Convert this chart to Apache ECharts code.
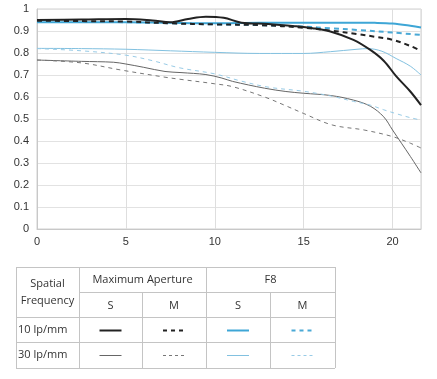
<!DOCTYPE html>
<html>
<head>
<meta charset="utf-8">
<script src="https://cdn.jsdelivr.net/npm/echarts@6/dist/echarts.min.js"></script>
<style>
html,body{margin:0;padding:0;background:#fff;}
#chart{width:437px;height:379px;}
</style>
</head>
<body>
<div id="chart"></div>
<script>
// x = image height (mm), y = MTF contrast
const maxAperture10S = [[0,0.95],[2.5,0.952],[5,0.955],[6.5,0.948],[7.5,0.94],[8.5,0.955],[9.5,0.965],[10.5,0.96],[11.5,0.938],[13,0.932],[14.5,0.922],[15.5,0.913],[16.5,0.898],[17.8,0.86],[18.75,0.814],[19.5,0.765],[20.2,0.695],[21,0.625],[21.6,0.563]];
const maxAperture10M = [[0,0.947],[2.5,0.945],[5,0.943],[7.5,0.935],[10,0.93],[12.5,0.927],[15,0.915],[16.5,0.902],[18,0.886],[19,0.874],[20,0.86],[21,0.832],[21.6,0.81]];
const f8_10S = [[0,0.94],[2.5,0.94],[5,0.94],[7.5,0.937],[10,0.935],[12.5,0.938],[15,0.938],[17.5,0.938],[19,0.937],[20,0.934],[21,0.924],[21.6,0.916]];
const f8_10M = [[0,0.944],[2.5,0.942],[5,0.94],[7.5,0.935],[10,0.93],[12.5,0.927],[15,0.92],[16.5,0.912],[18,0.905],[20,0.893],[21.6,0.882]];
const maxAperture30S = [[0,0.768],[2.5,0.762],[4.3,0.758],[5,0.75],[6,0.735],[7.2,0.716],[8.1,0.711],[9.5,0.702],[10.4,0.686],[11,0.671],[12.8,0.64],[14,0.625],[15,0.617],[16.5,0.607],[17.8,0.586],[18.75,0.558],[19.5,0.51],[20,0.45],[20.5,0.39],[21,0.33],[21.6,0.255]];
const maxAperture30M = [[0,0.768],[2.5,0.755],[4.7,0.723],[7.2,0.69],[8.1,0.68],[10,0.66],[11,0.647],[12.8,0.6],[14,0.56],[15,0.525],[16.6,0.473],[18.4,0.45],[20,0.42],[21,0.39],[21.6,0.368]];
const f8_30S = [[0,0.821],[2.5,0.82],[5,0.817],[7.5,0.81],[10,0.803],[12.5,0.798],[15,0.798],[16.5,0.806],[18,0.817],[18.6,0.82],[19.4,0.808],[20.2,0.775],[21,0.74],[21.6,0.70]];
const f8_30M = [[0,0.82],[2.5,0.81],[5,0.79],[6.5,0.765],[8,0.733],[10,0.705],[11.5,0.672],[13,0.645],[15,0.626],[16.5,0.605],[17.8,0.58],[18.75,0.563],[19.5,0.542],[20.3,0.522],[21,0.506],[21.6,0.495]];

const yTicks = ['0','0.1','0.2','0.3','0.4','0.5','0.6','0.7','0.8','0.9','1'];
const xTicks = ['0','5','10','15','20'];
const rowLabels = ['10 lp/mm','30 lp/mm'];
const groupLabels = ['Maximum Aperture','F8'];
const subLabels = ['S','M','S','M'];
const headerLabel = 'Spatial\nFrequency';

const C = {
  black: '#222222',
  blue: '#3ea6d6',
  blueDash: '#4aa9d6',
  gray: '#666666',
  grayDash: '#777777',
  lightBlue: '#82c1e0',
  lightBlueDash: '#98cbe6'
};

const seriesDefs = [
  {data: maxAperture30S, color: C.gray, width: 1, type: 'solid'},
  {data: maxAperture30M, color: C.grayDash, width: 1, type: [4,4]},
  {data: f8_30S, color: C.lightBlue, width: 1, type: 'solid'},
  {data: f8_30M, color: C.lightBlueDash, width: 1, type: [4,4]},
  {data: f8_10S, color: C.blue, width: 2, type: 'solid'},
  {data: f8_10M, color: C.blueDash, width: 2, type: [5,4]},
  {data: maxAperture10M, color: C.black, width: 2, type: [5,4]},
  {data: maxAperture10S, color: C.black, width: 2, type: 'solid'}
];

const chart = echarts.init(document.getElementById('chart'), null, {renderer: 'canvas'});

// table geometry
const colX = [16, 79, 142, 206, 270, 335];
const rowY = [267, 292, 317, 342, 368];
const tableColor = '#c4c4c4';
const textColor = '#333';
const tFont = '11px "Open Sans", "Liberation Sans", sans-serif';
const g = [];
function hl(x1, x2, y){ g.push({type:'line', shape:{x1:x1,y1:y+0.5,x2:x2,y2:y+0.5}, style:{stroke:tableColor,lineWidth:1}, silent:true}); }
function vl(x, y1, y2){ g.push({type:'line', shape:{x1:x+0.5,y1:y1,x2:x+0.5,y2:y2}, style:{stroke:tableColor,lineWidth:1}, silent:true}); }
function txt(s, x, y, align){ g.push({type:'text', x:x, y:y, style:{text:s, font:tFont, fill:textColor, align:align||'center', verticalAlign:'middle', lineHeight:17}, silent:true}); }
hl(colX[0], colX[5], rowY[0]);
hl(colX[1], colX[5], rowY[1]);
hl(colX[0], colX[5], rowY[2]);
hl(colX[0], colX[5], rowY[3]);
hl(colX[0], colX[5], rowY[4]);
vl(colX[0], rowY[0], rowY[4]);
vl(colX[1], rowY[0], rowY[4]);
vl(colX[2], rowY[1], rowY[4]);
vl(colX[3], rowY[0], rowY[4]);
vl(colX[4], rowY[1], rowY[4]);
vl(colX[5], rowY[0], rowY[4]);
txt(headerLabel, (colX[0]+colX[1])/2, (rowY[0]+rowY[2])/2);
txt(groupLabels[0], (colX[1]+colX[3])/2, (rowY[0]+rowY[1])/2);
txt(groupLabels[1], (colX[3]+colX[5])/2, (rowY[0]+rowY[1])/2);
subLabels.forEach((s,i)=>txt(s, (colX[i+1]+colX[i+2])/2, (rowY[1]+rowY[2])/2 + 1));
rowLabels.forEach((s,i)=>txt(s, colX[0]+2, (rowY[i+2]+rowY[i+3])/2, 'left'));
const legendRows = [
  [seriesDefs[7], seriesDefs[6], seriesDefs[4], seriesDefs[5]],
  [seriesDefs[0], seriesDefs[1], seriesDefs[2], seriesDefs[3]]
];
legendRows.forEach((row, r)=>{
  const yc = Math.round((rowY[r+2]+rowY[r+3])/2) + 0.5;
  row.forEach((d, c)=>{
    const xc = (colX[c+1]+colX[c+2])/2;
    g.push({type:'line', shape:{x1:xc-11,y1:yc,x2:xc+11,y2:yc},
      style:{stroke:d.color, lineWidth:d.width, lineDash: d.type==='solid'?null:(d.width>1?[4,4]:[3,3])}, silent:true});
  });
});

chart.setOption({
  animation: false,
  backgroundColor: '#fff',
  grid: {left: 37, top: 9, right: 16, bottom: 150, show: true, borderColor: '#d0d0d0', borderWidth: 1},
  xAxis: {
    type: 'value', min: 0, max: 21.6, interval: 5,
    axisLine: {show: true, lineStyle: {color: '#c8c8c8'}},
    axisTick: {show: false},
    splitLine: {show: true, lineStyle: {color: '#dedede'}},
    axisLabel: {color: '#333', fontSize: 11, fontFamily: 'Liberation Sans', margin: 7,
      formatter: v => xTicks.includes(String(v)) ? String(v) : '', showMaxLabel: false}
  },
  yAxis: {
    type: 'value', min: 0, max: 1, interval: 0.1,
    axisLine: {show: true, lineStyle: {color: '#c8c8c8'}},
    axisTick: {show: false},
    splitLine: {show: true, lineStyle: {color: '#e2e2e2'}},
    axisLabel: {color: '#333', fontSize: 11, fontFamily: 'Liberation Sans', margin: 8,
      formatter: v => yTicks[Math.round(v*10)]}
  },
  series: seriesDefs.map(d => ({
    type: 'line', data: d.data, smooth: 0.35, symbol: 'none', silent: true,
    lineStyle: {color: d.color, width: d.width, type: d.type}
  })),
  graphic: g
});
</script>
</body>
</html>
